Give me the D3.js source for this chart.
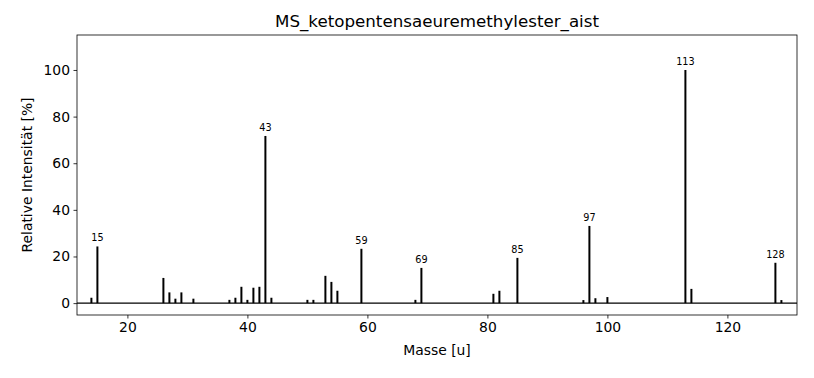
<!DOCTYPE html>
<html>
<head>
<meta charset="utf-8">
<script src="https://cdn.jsdelivr.net/npm/d3@7"></script>
<style>
  body { margin: 0; background: #fff; }
  text { font-family: "DejaVu Sans", sans-serif; fill: #000; }
</style>
</head>
<body>
<div id="chart"></div>
<script>
// mass spectrum values
const masses = [14, 15, 26, 27, 28, 29, 31, 37, 38, 39, 40, 41, 42, 43, 44,
  50, 51, 53, 54, 55, 59, 68, 69, 81, 82, 85, 96, 97, 98, 100, 113, 114, 128, 129];
const intensities = [2.3, 24.3, 10.8, 4.6, 1.9, 4.6, 1.9, 1.4, 2.3, 7.0, 1.4, 6.6, 7.0, 71.7, 2.3,
  1.4, 1.4, 11.7, 9.1, 5.3, 23.3, 1.4, 15.1, 4.0, 5.3, 19.4, 1.3, 33.1, 2.1, 2.6, 100, 6.1, 17.3, 1.3];
const labeledPeaks = [15, 43, 59, 69, 85, 97, 113, 128];
const xTicks = [20, 40, 60, 80, 100, 120];
const yTicks = [0, 20, 40, 60, 80, 100];

const width = 814, height = 378;
const margin = {top: 35, right: 17, bottom: 63, left: 77};

const svg = d3.select("#chart").append("svg")
  .attr("width", width)
  .attr("height", height);

const x = d3.scaleLinear().domain([11.6, 131.6]).range([margin.left, width - margin.right]);
const y = d3.scaleLinear().domain([-5.1, 115]).range([height - margin.bottom, margin.top]);

const data = masses.map((m, i) => ({mass: m, value: intensities[i]}));

// baseline at 0
svg.append("line")
  .attr("x1", margin.left).attr("x2", width - margin.right)
  .attr("y1", y(0)).attr("y2", y(0))
  .attr("stroke", "#000").attr("stroke-width", 1.2);

// peaks
svg.selectAll(".peak").data(data).enter().append("line")
  .attr("class", "peak")
  .attr("x1", d => x(d.mass)).attr("x2", d => x(d.mass))
  .attr("y1", y(0)).attr("y2", d => y(d.value))
  .attr("stroke", "#000").attr("stroke-width", 2);

// peak labels
svg.selectAll(".plabel").data(data.filter(d => labeledPeaks.includes(d.mass))).enter().append("text")
  .attr("class", "plabel")
  .attr("x", d => x(d.mass))
  .attr("y", d => y(d.value) - 5)
  .attr("text-anchor", "middle")
  .style("font-size", "9.7px")
  .text(d => d.mass);

// axes
const xAxis = d3.axisBottom(x).tickValues(xTicks).tickSize(3.5).tickPadding(3.5);
const yAxis = d3.axisLeft(y).tickValues(yTicks).tickSize(3.5).tickPadding(3.5);

const gx = svg.append("g")
  .attr("transform", `translate(0,${height - margin.bottom})`)
  .call(xAxis);
const gy = svg.append("g")
  .attr("transform", `translate(${margin.left},0)`)
  .call(yAxis);
[gx, gy].forEach(g => {
  g.select(".domain").remove();
  g.selectAll("text").style("font-size", "13.9px").style("font-family", "DejaVu Sans");
  g.selectAll("line").attr("stroke", "#000").attr("stroke-width", 0.8);
});

// frame
svg.append("rect")
  .attr("x", margin.left).attr("y", margin.top)
  .attr("width", width - margin.left - margin.right)
  .attr("height", height - margin.top - margin.bottom)
  .attr("fill", "none").attr("stroke", "#000").attr("stroke-width", 0.8);

// title and axis labels
svg.append("text")
  .attr("x", (margin.left + width - margin.right) / 2)
  .attr("y", 27)
  .attr("text-anchor", "middle")
  .style("font-size", "16.7px")
  .text("MS_ketopentensaeuremethylester_aist");

svg.append("text")
  .attr("x", (margin.left + width - margin.right) / 2)
  .attr("y", 355)
  .attr("text-anchor", "middle")
  .style("font-size", "13.9px")
  .text("Masse [u]");

svg.append("text")
  .attr("transform", `translate(32,${(margin.top + height - margin.bottom) / 2}) rotate(-90)`)
  .attr("text-anchor", "middle")
  .style("font-size", "13.9px")
  .text("Relative Intensität [%]");
</script>
</body>
</html>
